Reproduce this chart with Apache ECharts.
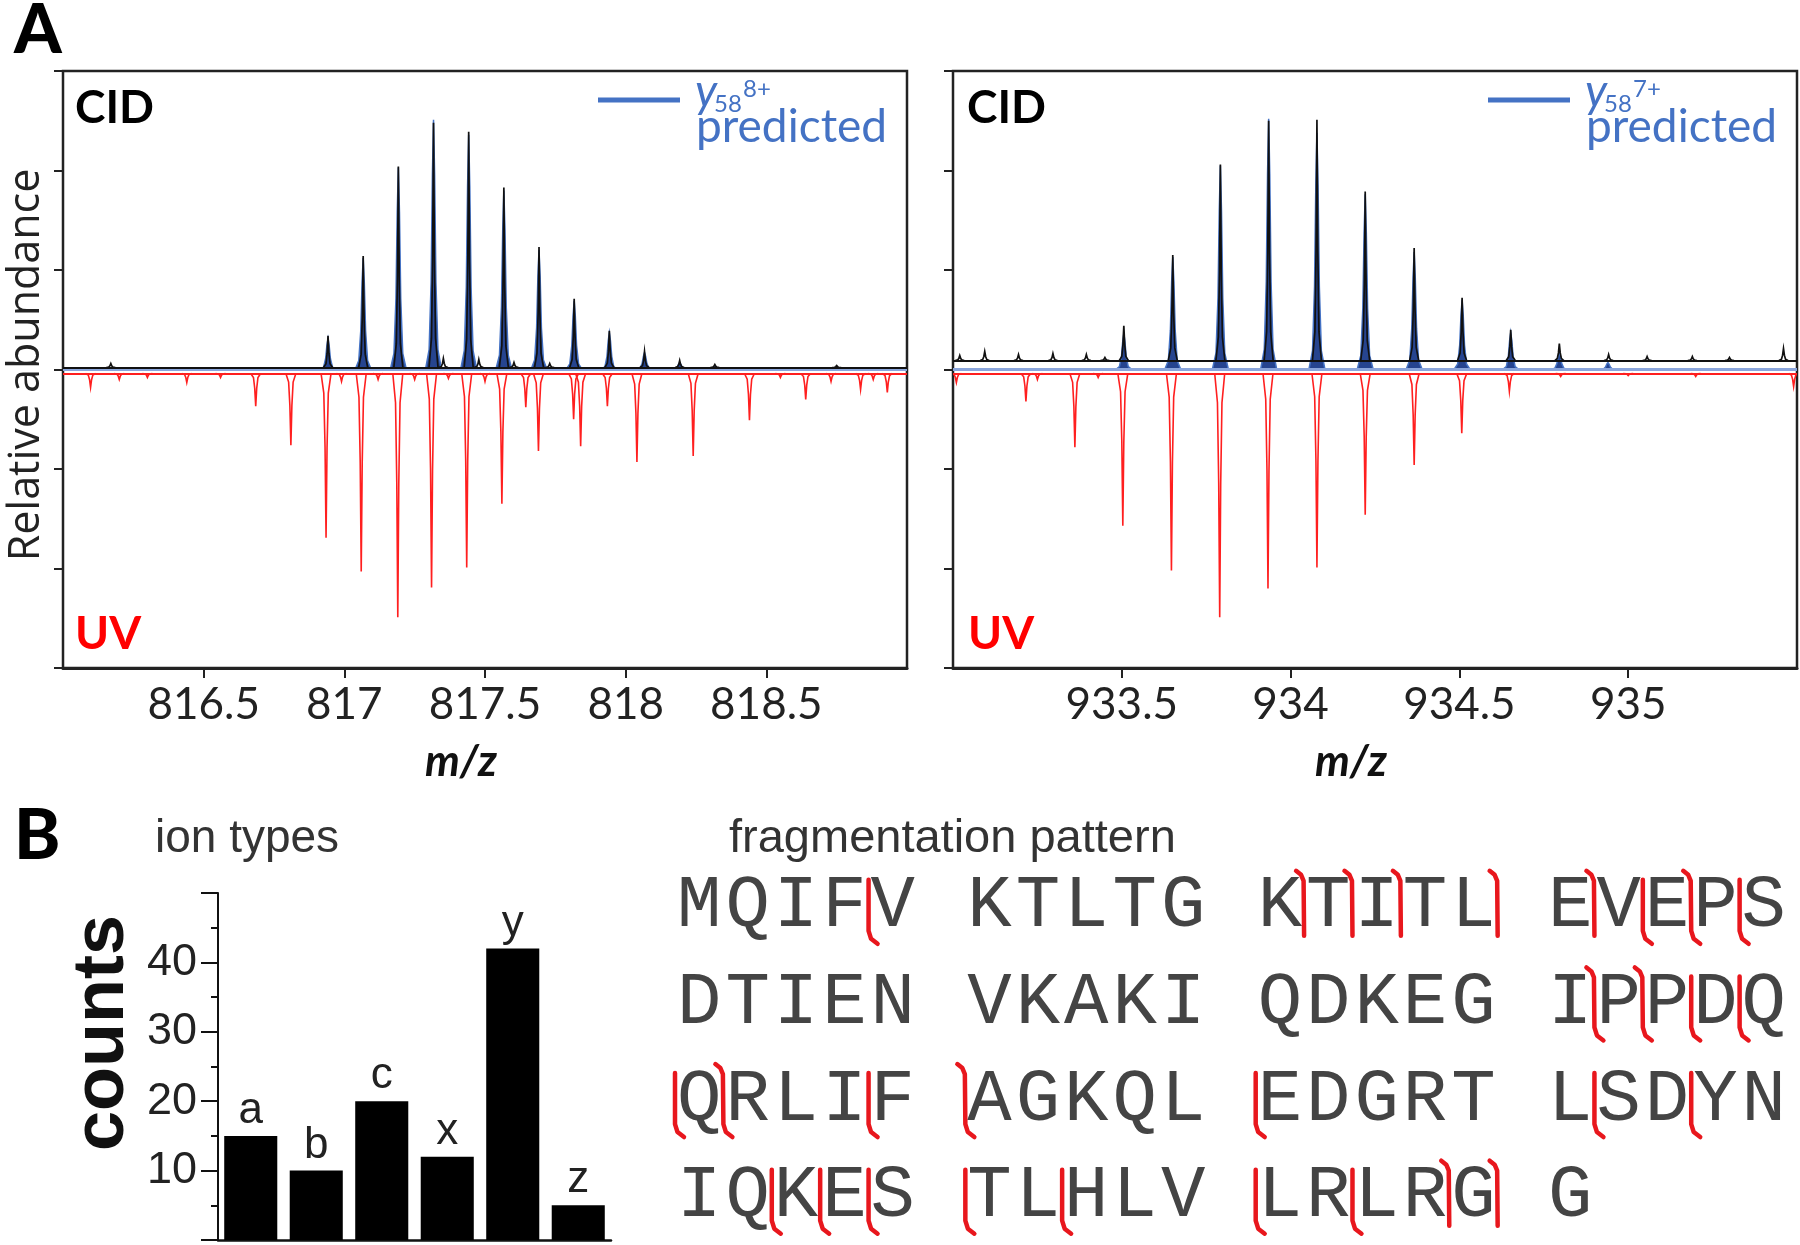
<!DOCTYPE html>
<html>
<head>
<meta charset="utf-8">
<script src="https://cdn.jsdelivr.net/npm/echarts@6/dist/echarts.min.js"></script>
<style>html,body{margin:0;padding:0;background:#fff}#c{width:1800px;height:1245px}</style>
</head>
<body>
<div id="c"></div>
<script>
// ---------------- DATA ----------------
// Panel A, left: y58 8+ isotope cluster (m/z, relative abundance)
const leftXTicks = [816, 819];
const leftCidBaseline = 0.02;
const leftCidPeaks = [
  [816.17,0.06],[816.942,0.34],[817.067,1.14],[817.192,2.04],[817.317,2.48],[817.352,0.11],
  [817.442,2.39],[817.478,0.10],[817.567,1.83],[817.603,0.07],[817.692,1.23],[817.73,0.06],
  [817.817,0.71],[817.942,0.39],[818.067,0.18],[818.192,0.09],[818.317,0.05],[818.75,0.04]
];
const leftPredPeaks = [
  [816.942,0.31],[817.067,1.12],[817.192,2.03],[817.317,2.51],[817.442,2.36],[817.567,1.80],
  [817.692,1.20],[817.817,0.69],[817.942,0.37],[818.067,0.17],[818.192,0.07],[818.317,0.03]
];
const uvBaseline = -0.04;
const leftUvPeaks = [
  [816.098,-0.18],[816.2,-0.10],[816.3,-0.08],[816.44,-0.13],[816.56,-0.08],[816.685,-0.37],
  [816.81,-0.76],[816.935,-1.69],[816.99,-0.12],[817.06,-2.03],[817.12,-0.10],[817.19,-2.49],
  [817.25,-0.10],[817.31,-2.19],[817.37,-0.09],[817.435,-1.99],[817.5,-0.12],[817.56,-1.35],
  [817.645,-0.38],[817.69,-0.82],[817.815,-0.50],[817.84,-0.77],[817.935,-0.37],[818.04,-0.93],
  [818.24,-0.87],[818.44,-0.51],[818.55,-0.08],[818.64,-0.30],[818.73,-0.12],[818.835,-0.20],
  [818.88,-0.10],[818.93,-0.23]
];
// Panel A, right: y58 7+ isotope cluster
const rightXTicks = [933, 935.5];
const rightCidBaseline = 0.09;
const rightCidPeaks = [
  [933.02,0.14],[933.094,0.18],[933.194,0.15],[933.296,0.16],[933.395,0.15],[933.45,0.12],
  [933.506,0.44],[933.651,1.15],[933.792,2.06],[933.935,2.50],[934.078,2.51],[934.221,1.79],
  [934.366,1.22],[934.508,0.72],[934.652,0.40],[934.796,0.26],[934.942,0.15],[935.056,0.13],
  [935.19,0.13],[935.3,0.12],[935.46,0.21]
];
const rightPredPeaks = [
  [933.506,0.36],[933.651,1.13],[933.792,2.05],[933.935,2.52],[934.078,2.38],[934.221,1.76],
  [934.366,1.18],[934.508,0.70],[934.652,0.37],[934.796,0.17],[934.94,0.07]
];
const rightUvPeaks = [
  [933.01,-0.13],[933.216,-0.32],[933.25,-0.10],[933.361,-0.78],[933.43,-0.08],[933.503,-1.57],
  [933.647,-2.02],[933.79,-2.49],[933.933,-2.20],[934.078,-1.99],[934.221,-1.46],[934.366,-0.96],
  [934.507,-0.64],[934.648,-0.22],[934.8,-0.07],[935.0,-0.06],[935.2,-0.07],[935.49,-0.17]
];
// Panel B: ion types
const ionTypes = ['a','b','c','x','y','z'];
const ionCounts = [15, 10, 20, 12, 42, 5];
// Panel B: fragmentation pattern (ubiquitin)
const sequence = 'MQIFVKTLTGKTITLEVEPSDTIENVKAKIQDKEGIPPDQQRLIFAGKQLEDGRTLSDYNIQKESTLHLVLRLRGG';
// cleavage after residue n ; 'b' = lower hook, 't' = upper hook, 'bt' = both
const cleavages = [
  [4,'b'],[11,'t'],[12,'t'],[13,'t'],[15,'t'],[16,'t'],[17,'b'],[18,'bt'],[19,'b'],
  [36,'bt'],[37,'bt'],[38,'b'],[39,'b'],
  [40,'b'],[41,'bt'],[44,'b'],[45,'bt'],[50,'b'],[56,'b'],[58,'b'],
  [62,'b'],[63,'b'],[64,'b'],[65,'b'],[67,'b'],[70,'b'],[72,'b'],[74,'t'],[75,'t']
];

// ---------------- RENDER ----------------
const BLUE = '#4472c4';
const RED = '#ff1f1f';
const spikeShape = [[-1,0],[-0.45,0.12],[-0.2,0.45],[0,1],[0.2,0.45],[0.45,0.12],[1,0]];
const bodyShape = [[-1,0],[-0.55,0.08],[-0.3,0.35],[-0.14,0.78],[0,1],[0.14,0.78],[0.3,0.35],[0.55,0.08],[1,0]];

function peakRenderer(base, hw, shape, style, filled) {
  return function (params, api) {
    const x = api.value(0), h = api.value(1);
    const top = api.coord([x, h]);
    const b = api.coord([x, base]);
    const dy = top[1] - b[1];
    const pts = shape.map(p => [top[0] + p[0] * hw, b[1] + p[1] * dy]);
    return { type: filled ? 'polygon' : 'polyline', shape: { points: pts }, style: style };
  };
}

function spectrumSeries(gi, cid, pred, uv, cidBase) {
  return [
    { type: 'custom', xAxisIndex: gi, yAxisIndex: gi, clip: true, z: 2, data: uv,
      encode: { x: 0, y: 1 },
      renderItem: peakRenderer(uvBaseline, 5, spikeShape, { stroke: RED, lineWidth: 1.6, fill: null }, false),
      markLine: { silent: true, symbol: 'none', label: { show: false }, animation: false,
        lineStyle: { color: RED, width: 1.8, type: 'solid' }, data: [{ yAxis: uvBaseline }] } },
    { type: 'custom', xAxisIndex: gi, yAxisIndex: gi, clip: true, z: 3, data: pred,
      encode: { x: 0, y: 1 },
      renderItem: peakRenderer(0, 8, bodyShape, { stroke: BLUE, lineWidth: 1.5, fill: '#26448f' }, true),
      markLine: { silent: true, symbol: 'none', label: { show: false }, animation: false,
        lineStyle: { color: '#8aa5dc', width: 3, type: 'solid' }, data: [{ yAxis: 0 }] } },
    { type: 'custom', xAxisIndex: gi, yAxisIndex: gi, clip: true, z: 4, data: cid,
      encode: { x: 0, y: 1 },
      renderItem: peakRenderer(cidBase, 4.5, spikeShape, { stroke: '#111', lineWidth: 1.7, fill: null }, false),
      markLine: { silent: true, symbol: 'none', label: { show: false }, animation: false,
        lineStyle: { color: '#111', width: 1.8, type: 'solid' }, data: [{ yAxis: cidBase }] } }
  ];
}

function specXAxis(gi, range) {
  return { type: 'value', gridIndex: gi, min: range[0], max: range[1], interval: 0.5,
    axisLine: { onZero: false, lineStyle: { color: '#222', width: 3 } },
    axisTick: { inside: false, length: 10, lineStyle: { color: '#222', width: 2 } },
    axisLabel: { showMinLabel: false, showMaxLabel: false, margin: 15, fontFamily: 'Lato',
      fontSize: 44, color: '#222' },
    splitLine: { show: false } };
}
function specYAxis(gi) {
  return { type: 'value', gridIndex: gi, min: -3, max: 3, interval: 1,
    axisLine: { onZero: false, lineStyle: { color: '#222', width: 2 } },
    axisTick: { inside: false, length: 9, lineStyle: { color: '#222', width: 2 } },
    axisLabel: { show: false }, splitLine: { show: false } };
}

// sequence layout (5-letter blocks separated by one space, 20 residues per row)
function colOf(i) { const j = i % 20; return Math.floor(j / 5) * 6 + (j % 5); }
function rowOf(i) { return Math.floor(i / 20); }
const letterData = sequence.split('').map((ch, i) => [colOf(i), rowOf(i), ch]);
const cleavageData = cleavages.map(([n, t]) => {
  // n is 1-based residue before the cut
  if (t.indexOf('b') >= 0) { const i = n; return [colOf(i) - 0.5, rowOf(i), t]; }
  const i = n - 1; return [colOf(i) + 0.5, rowOf(i), t];
});

const txt = (text, x, y, s) => ({ type: 'text', x: x, y: y, silent: true,
  style: Object.assign({ text: text, fill: '#000', align: 'left', verticalAlign: 'middle' }, s) });

const graphics = [
  txt('A', 14, 31, { fontFamily: 'Lato', fontWeight: 900, fontSize: 68 }),
  txt('B', 14, 836, { fontFamily: 'Lato', fontWeight: 900, fontSize: 70 }),
  txt('CID', 75, 108, { fontFamily: 'Lato', fontWeight: 'bold', fontSize: 46 }),
  txt('UV', 75, 634, { fontFamily: 'Lato', fontWeight: 'bold', fontSize: 46, fill: '#ff0000' }),
  txt('CID', 967, 108, { fontFamily: 'Lato', fontWeight: 'bold', fontSize: 46 }),
  txt('UV', 968, 634, { fontFamily: 'Lato', fontWeight: 'bold', fontSize: 46, fill: '#ff0000' }),
  { type: 'line', silent: true, shape: { x1: 598, y1: 100, x2: 680, y2: 100 }, style: { stroke: BLUE, lineWidth: 5 } },
  txt('y', 695, 92, { fontFamily: 'Lato', fontStyle: 'italic', fontSize: 46, fill: BLUE }),
  txt('58', 714, 104, { fontFamily: 'Lato', fontSize: 24, fill: BLUE }),
  txt('8+', 743, 89, { fontFamily: 'Lato', fontSize: 24, fill: BLUE }),
  txt('predicted', 696, 127, { fontFamily: 'Lato', fontSize: 46, fill: BLUE }),
  { type: 'line', silent: true, shape: { x1: 1488, y1: 100, x2: 1570, y2: 100 }, style: { stroke: BLUE, lineWidth: 5 } },
  txt('y', 1585, 92, { fontFamily: 'Lato', fontStyle: 'italic', fontSize: 46, fill: BLUE }),
  txt('58', 1604, 104, { fontFamily: 'Lato', fontSize: 24, fill: BLUE }),
  txt('7+', 1633, 89, { fontFamily: 'Lato', fontSize: 24, fill: BLUE }),
  txt('predicted', 1586, 127, { fontFamily: 'Lato', fontSize: 46, fill: BLUE }),
  txt('m/z', 461, 762, { fontFamily: 'Lato', fontWeight: 'bold', fontStyle: 'italic', fontSize: 44, align: 'center', fill: '#111' }),
  txt('m/z', 1351, 762, { fontFamily: 'Lato', fontWeight: 'bold', fontStyle: 'italic', fontSize: 44, align: 'center', fill: '#111' }),
  Object.assign(txt('Relative abundance', 27, 365, { fontFamily: 'Open Sans', fontSize: 43, align: 'center', fill: '#222' }), { rotation: Math.PI / 2 }),
  Object.assign(txt('counts', 103, 1033, { fontFamily: 'Liberation Sans', fontWeight: 'bold', fontSize: 72, align: 'center', fill: '#111' }), { rotation: Math.PI / 2 }),
  txt('ion types', 155, 839, { fontFamily: 'Liberation Sans', fontSize: 46, fill: '#333' }),
  txt('fragmentation pattern', 729, 839, { fontFamily: 'Liberation Sans', fontSize: 47, fill: '#333' })
];

const option = {
  animation: false,
  backgroundColor: '#fff',
  graphic: graphics,
  grid: [
    { left: 63, top: 71, right: 893, bottom: 577, show: true, borderColor: '#222', borderWidth: 2.5, backgroundColor: 'transparent' },
    { left: 953, top: 71, right: 3, bottom: 577, show: true, borderColor: '#222', borderWidth: 2.5, backgroundColor: 'transparent' },
    { left: 218, top: 893, right: 1189, bottom: 5 },
    { left: 675, top: 858.5, right: 12, bottom: 0 }
  ],
  xAxis: [
    specXAxis(0, leftXTicks),
    specXAxis(1, rightXTicks),
    { type: 'category', gridIndex: 2, data: ionTypes,
      axisLine: { lineStyle: { color: '#111', width: 2.5 } }, axisTick: { show: false },
      axisLabel: { show: false } },
    { type: 'value', gridIndex: 3, min: -0.5, max: 22.5, show: false }
  ],
  yAxis: [
    specYAxis(0), specYAxis(1),
    { type: 'value', gridIndex: 2, min: 0, max: 50, interval: 10,
      axisLine: { show: true, lineStyle: { color: '#111', width: 2 } },
      axisTick: { show: true, inside: false, length: 17, lineStyle: { color: '#111', width: 2 } },
      minorTick: { show: true, splitNumber: 2, length: 7, lineStyle: { color: '#111', width: 2 } },
      axisLabel: { margin: 21, fontFamily: 'Liberation Sans', fontSize: 45, color: '#222',
        formatter: v => (v > 0 && v < 50) ? String(v) : '' },
      splitLine: { show: false } },
    { type: 'value', gridIndex: 3, min: -0.5, max: 3.5, inverse: true, show: false }
  ],
  series: [].concat(
    spectrumSeries(0, leftCidPeaks, leftPredPeaks, leftUvPeaks, leftCidBaseline),
    spectrumSeries(1, rightCidPeaks, rightPredPeaks, rightUvPeaks, rightCidBaseline),
    [
      { type: 'bar', xAxisIndex: 2, yAxisIndex: 2, data: ionCounts, barWidth: '81%',
        itemStyle: { color: '#000' },
        label: { show: true, position: 'top', distance: 3, formatter: '{b}',
          fontFamily: 'Liberation Sans', fontSize: 44, color: '#222' } },
      { type: 'custom', xAxisIndex: 3, yAxisIndex: 3, data: letterData, z: 2,
        encode: { x: 0, y: 1 },
        renderItem: function (params, api) {
          const p = api.coord([api.value(0), api.value(1)]);
          return { type: 'text', x: p[0], y: p[1],
            style: { text: letterData[params.dataIndex][2], fontFamily: 'Liberation Mono',
              fontSize: 74, fill: '#444', align: 'center', verticalAlign: 'middle' } };
        } },
      { type: 'custom', xAxisIndex: 3, yAxisIndex: 3, data: cleavageData, z: 3,
        encode: { x: 0, y: 1 },
        renderItem: function (params, api) {
          const p = api.coord([api.value(0), api.value(1)]);
          const t = cleavageData[params.dataIndex][2];
          const x = p[0], cy = p[1];
          let pts = [];
          if (t.indexOf('t') >= 0) pts.push([x - 8, cy - 36], [x - 3, cy - 32], [x - 0.5, cy - 26]);
          else pts.push([x, cy - 27]);
          if (t.indexOf('b') >= 0) pts.push([x, cy + 24], [x + 2.5, cy + 32], [x + 9, cy + 37]);
          else pts.push([x, cy + 29]);
          return { type: 'polyline', shape: { points: pts },
            style: { stroke: '#e8171d', lineWidth: 4.5, fill: null, lineCap: 'round', lineJoin: 'round' } };
        } }
    ]
  )
};

const chart = echarts.init(document.getElementById('c'), null, { renderer: 'canvas', width: 1800, height: 1245 });
chart.setOption(option);
</script>
</body>
</html>
